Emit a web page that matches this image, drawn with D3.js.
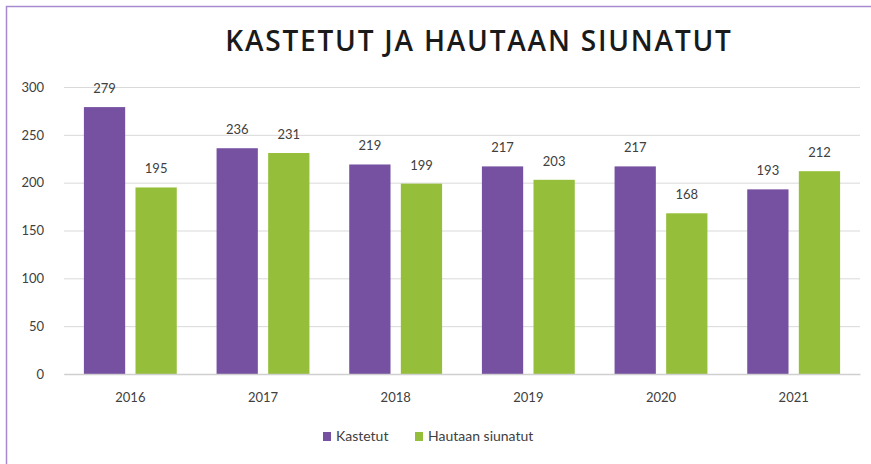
<!DOCTYPE html>
<html>
<head>
<meta charset="utf-8">
<script src="https://cdn.jsdelivr.net/npm/d3@7"></script>
<style>
  body { margin: 0; background: #fff; }
  svg { display: block; }
</style>
</head>
<body>
<div id="chart"></div>
<script>
// data
const years = ["2016", "2017", "2018", "2019", "2020", "2021"];
const kastetut = [279, 236, 219, 217, 217, 193];
const siunatut = [195, 231, 199, 203, 168, 212];
const seriesNames = ["Kastetut", "Hautaan siunatut"];
const yTicks = [0, 50, 100, 150, 200, 250, 300];

const width = 871, height = 464;
const colors = ["#7651a1", "#95bf3b"];
const font = "Lato, 'Open Sans', sans-serif";

const svg = d3.select("#chart").append("svg")
    .attr("width", width)
    .attr("height", height);

// frame (only top and left edges visible)
svg.append("path")
    .attr("d", "M6.5," + height + "V6.5H" + width)
    .attr("fill", "none")
    .attr("stroke", "#a78bd0")
    .attr("stroke-width", 1.5);

svg.append("text")
    .attr("x", 479)
    .attr("y", 51)
    .attr("text-anchor", "middle")
    .attr("font-family", "'Open Sans', sans-serif")
    .attr("font-weight", 600)
    .attr("font-size", 28)
    .attr("letter-spacing", 1.8)
    .attr("fill", "#1a1a1a")
    .text("KASTETUT JA HAUTAAN SIUNATUT");

const x0 = d3.scaleBand().domain(years).range([64, 860]).paddingInner(0.3).paddingOuter(0.15);
const x1 = d3.scaleBand().domain(seriesNames).range([0, x0.bandwidth()]).paddingInner(0.2);
const y = d3.scaleLinear().domain([0, 300]).range([374, 87]);

// gridlines + y labels
const yAxis = svg.append("g")
    .attr("transform", "translate(64,0)")
    .call(d3.axisLeft(y).tickValues(yTicks).tickSize(-(860 - 64)).tickPadding(20));
yAxis.select(".domain").remove();
yAxis.selectAll(".tick line").attr("stroke", "#d9d9d9").attr("stroke-width", 1);
yAxis.selectAll(".tick text")
    .attr("font-family", font)
    .attr("font-size", 13)
    .attr("fill", "#404040");

const table = years.map((yr, i) => ({ year: yr, values: [kastetut[i], siunatut[i]] }));

const groups = svg.append("g").selectAll("g")
    .data(table)
    .enter().append("g")
    .attr("transform", d => "translate(" + x0(d.year) + ",0)");

groups.selectAll("rect")
    .data(d => d.values.map((v, k) => ({ name: seriesNames[k], value: v, k: k })))
    .enter().append("rect")
    .attr("x", d => x1(d.name))
    .attr("y", d => y(d.value))
    .attr("width", x1.bandwidth())
    .attr("height", d => y(0) - y(d.value))
    .attr("fill", d => colors[d.k]);

groups.selectAll("text")
    .data(d => d.values.map((v, k) => ({ name: seriesNames[k], value: v })))
    .enter().append("text")
    .attr("x", d => x1(d.name) + x1.bandwidth() / 2)
    .attr("y", d => y(d.value) - 14)
    .attr("text-anchor", "middle")
    .attr("font-family", font)
    .attr("font-size", 13)
    .attr("fill", "#404040")
    .text(d => d.value);

// x axis
const xAxis = svg.append("g")
    .attr("transform", "translate(0," + y(0) + ")")
    .call(d3.axisBottom(x0).tickSize(0).tickPadding(19));
xAxis.select(".domain").attr("stroke", "#d0d0d0").attr("stroke-width", 1.5);
xAxis.selectAll(".tick text")
    .attr("font-family", font)
    .attr("font-size", 13)
    .attr("fill", "#404040");

// legend
const legendX = [323, 415];
const legend = svg.append("g").selectAll("g")
    .data(seriesNames)
    .enter().append("g")
    .attr("transform", (d, i) => "translate(" + legendX[i] + ",432)");
legend.append("rect")
    .attr("width", 8).attr("height", 9)
    .attr("fill", (d, i) => colors[i]);
legend.append("text")
    .attr("x", 13)
    .attr("y", 9)
    .attr("font-family", font)
    .attr("font-size", 14)
    .attr("fill", "#404040")
    .text(d => d);
</script>
</body>
</html>
